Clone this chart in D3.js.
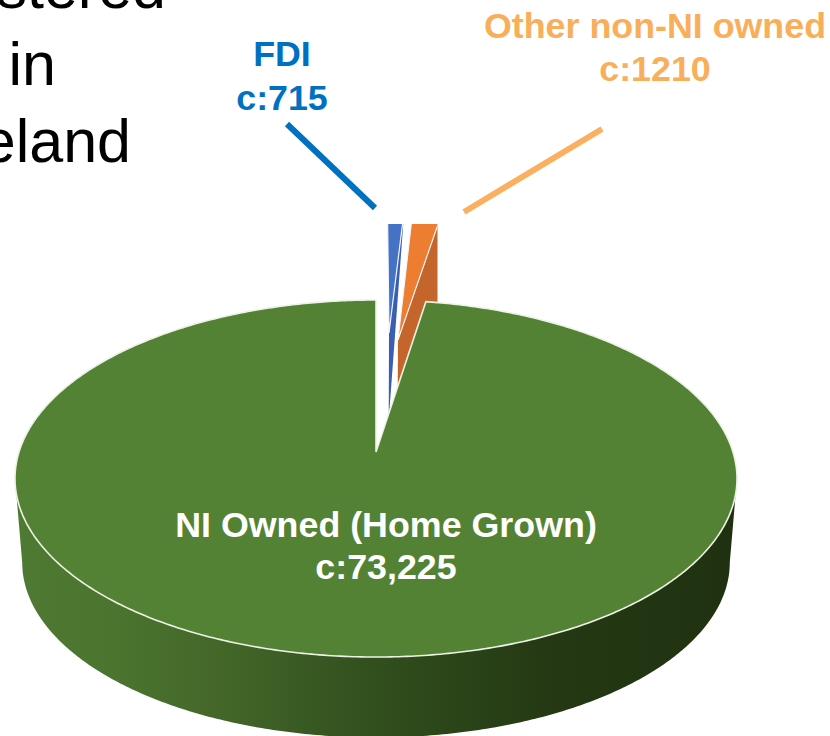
<!DOCTYPE html>
<html>
<head>
<meta charset="utf-8">
<script src="https://cdn.jsdelivr.net/npm/d3@7"></script>
<style>
  html, body { margin: 0; padding: 0; background: #fff; overflow: hidden; }
  svg { display: block; }
  text { font-family: "Liberation Sans", Arial, sans-serif; }
</style>
</head>
<body>
<div id="chart"></div>
<script>
const categories = ["FDI", "Other non-NI owned", "NI Owned (Home Grown)"];
const values = [715, 1210, 73225];
const valueLabels = ["c:715", "c:1210", "c:73,225"];
const titleLines = ["registered", "in", "Ireland"];

const width = 830;
const height = 736;

// face colour, wall colour
const faceColors = ["#4472c4", "#ed7d31", "#548235"];
const wallColors = ["#3a5fb0", "#c4652b", null];

// how far each slice is pulled out, in unit-circle coordinates
const explode = [[0.0405, -0.7585], [0.068, -0.709], [0, 0]];
// how much of the wall depth reaches the rim (the blue wall tapers to nothing)
const wallTaper = [0, 1, 1];

// tilted disc: circle centre lands on (cx, cy), the near side is drawn bigger
const cx = 376, cy = 452;
const rx = 357, ry = 174.6, persp = -0.1485;

function project(u, v) {
  const w = 1 + persp * v;
  return [cx + (rx * u) / w, cy + (ry * v) / w];
}

// same point on the underside of the disc
const ellipseCy = 478, depth = 84, shrink = 0.98;
function drop(p, amount = 1) {
  const s = 1 - (1 - shrink) * amount;
  return [cx + (p[0] - cx) * s, ellipseCy + (p[1] - ellipseCy) * s + depth * amount];
}

function rimPoint(angle, offset) {
  return project(offset[0] + Math.sin(angle), offset[1] - Math.cos(angle));
}

function sampleAngles(a0, a1) {
  const n = Math.max(2, Math.ceil(Math.abs(a1 - a0) / 0.01));
  return d3.range(n + 1).map((i) => a0 + ((a1 - a0) * i) / n);
}

const pie = d3.pie().sort(null).value((d) => d.value);
const slices = pie(categories.map((key, i) => ({ key, value: values[i] })));

const line = d3.line().curve(d3.curveLinear);
const closed = (pts) => line(pts) + "Z";

const svg = d3
  .select("#chart")
  .append("svg")
  .attr("width", width)
  .attr("height", height)
  .attr("viewBox", [0, 0, width, height]);

const defs = svg.append("defs");

const wallGradient = defs
  .append("linearGradient")
  .attr("id", "wallGradient")
  .attr("gradientUnits", "userSpaceOnUse")
  .attr("x1", 15)
  .attr("x2", 738)
  .attr("y1", 0)
  .attr("y2", 0);
[
  [0, "#4f7a33"],
  [0.14, "#4b742f"],
  [0.3, "#426528"],
  [0.45, "#355420"],
  [0.6, "#2b4519"],
  [0.75, "#243813"],
  [0.9, "#223512"],
  [1, "#1f3010"],
].forEach(([o, c]) =>
  wallGradient.append("stop").attr("offset", o).attr("stop-color", c)
);

// the exploded wedges run off the top and the right of the plot area
defs
  .append("clipPath")
  .attr("id", "plotClip")
  .append("rect")
  .attr("x", 0)
  .attr("y", 224)
  .attr("width", 437.5)
  .attr("height", height - 224);

const small = svg.append("g").attr("clip-path", "url(#plotClip)");

slices.slice(0, 2).forEach((d, i) => {
  const off = explode[i];
  const apex = project(off[0], off[1]);
  const rim = rimPoint(d.endAngle, off);

  small
    .append("path")
    .attr("d", closed([apex, drop(apex), drop(rim, wallTaper[i]), rim]))
    .attr("fill", wallColors[i]);

  small
    .append("path")
    .attr(
      "d",
      closed([apex, ...sampleAngles(d.startAngle, d.endAngle).map((a) => rimPoint(a, off))])
    )
    .attr("fill", faceColors[i])
    .attr("stroke", "#f4f6fa")
    .attr("stroke-width", 1.2);
});

// big slice: wall first, then the top face over it
const big = slices[2];
const bigOff = explode[2];
// widest points of the projected rim, a little in front of the centre line
const sideAngle = Math.PI / 2 + Math.asin(-persp);
const frontAngles = sampleAngles(sideAngle, 2 * Math.PI - sideAngle);
const frontTop = frontAngles.map((a) => rimPoint(a, bigOff));

svg
  .append("path")
  .attr("d", closed([...frontTop, ...frontTop.map((p) => drop(p)).reverse()]))
  .attr("fill", "url(#wallGradient)");

svg
  .append("path")
  .attr(
    "d",
    closed([
      project(bigOff[0], bigOff[1]),
      ...sampleAngles(big.startAngle, big.endAngle).map((a) => rimPoint(a, bigOff)),
    ])
  )
  .attr("fill", faceColors[2])
  .attr("stroke", "#eef2e6")
  .attr("stroke-width", 1.6);

// leader lines
const leaders = [
  { x1: 287, y1: 124, x2: 375, y2: 208, color: "#0070c0" },
  { x1: 602, y1: 129, x2: 464, y2: 212, color: "#fbb05f" },
];
svg
  .append("g")
  .selectAll("line")
  .data(leaders)
  .join("line")
  .attr("x1", (d) => d.x1)
  .attr("y1", (d) => d.y1)
  .attr("x2", (d) => d.x2)
  .attr("y2", (d) => d.y2)
  .attr("stroke", (d) => d.color)
  .attr("stroke-width", 6);

// labels
const labelSpots = [
  { x: 282, y: [66, 110], color: "#0070c0" },
  { x: 655, y: [38, 81], color: "#f9ae5a" },
  { x: 386, y: [537, 579], color: "#ffffff" },
];
labelSpots.forEach((spot, i) => {
  [categories[i], valueLabels[i]].forEach((txt, j) => {
    svg
      .append("text")
      .attr("x", spot.x)
      .attr("y", spot.y[j])
      .attr("text-anchor", "middle")
      .attr("font-size", 35.8)
      .attr("font-weight", "bold")
      .attr("fill", spot.color)
      .text(txt);
  });
});

// title, cut off by the left and top of the slide crop
const titleRight = [166, 56, 131];
const titleBase = [8, 85, 162];
titleLines.forEach((txt, i) => {
  svg
    .append("text")
    .attr("x", titleRight[i])
    .attr("y", titleBase[i])
    .attr("text-anchor", "end")
    .attr("font-size", 61)
    .attr("fill", "#000")
    .text(txt);
});
</script>
</body>
</html>
